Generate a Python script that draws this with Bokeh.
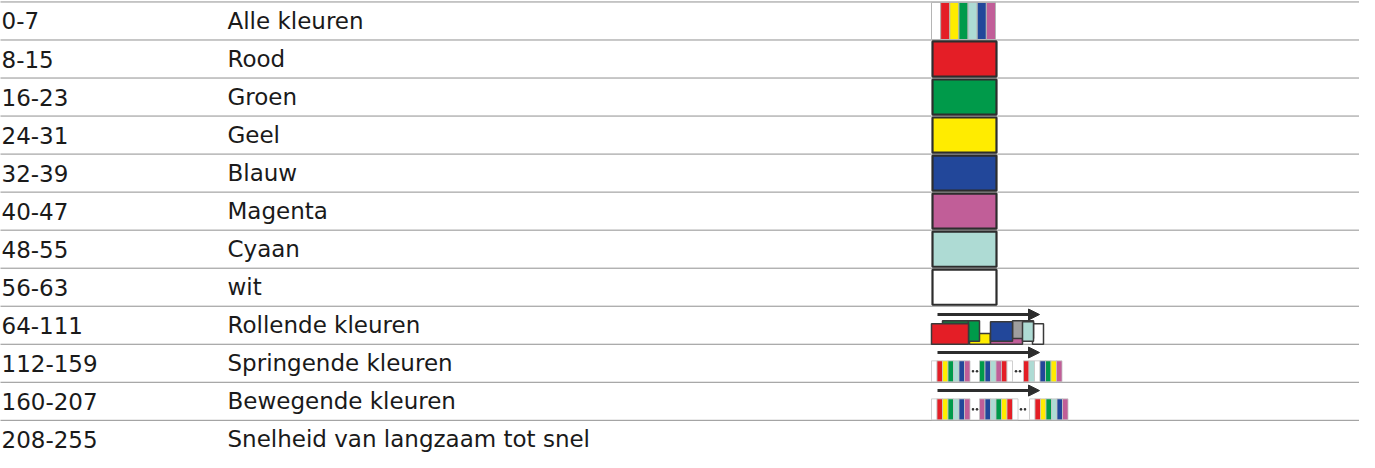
from bokeh.plotting import figure
from bokeh.models import Range1d, Arrow, NormalHead
from bokeh.embed import file_html
from bokeh.resources import INLINE
from bokeh.core.properties import value

# ---------------- data ----------------
ranges = ["0-7", "8-15", "16-23", "24-31", "32-39", "40-47", "48-55", "56-63",
          "64-111", "112-159", "160-207", "208-255"]
names = ["Alle kleuren", "Rood", "Groen", "Geel", "Blauw", "Magenta", "Cyaan", "wit",
         "Rollende kleuren", "Springende kleuren", "Bewegende kleuren",
         "Snelheid van langzaam tot snel"]

R, G, Y, B, M, C, W = "#E41E26", "#009A4A", "#FFEC00", "#22479A", "#C15E98", "#AEDBD4", "#FFFFFF"
solid_colors = [R, G, Y, B, M, C, W]          # rows 8-15 .. 56-63
all_stripes = [W, R, Y, G, C, B, M]            # row 0-7
jump_groups = [[W, R, Y, G, C, B, M], [G, B, C, M, R, W], [R, C, W, B, G, Y, M]]
move_groups = [[W, R, Y, G, C, B, M], [M, B, C, G, Y, R, W], [W, R, Y, G, C, B, M]]
roll_colors = [Y, M, W, "#9e9e9e", C, "#1d6b3e", G, B, R]   # back to front

# ---------------- layout ----------------
ROW0, PITCH = 5.0, 39.0
COL1_X, COL2_X = 1, 227
SW_X0, SW_X1 = 931, 995
LINE_X1 = 1370
STRIPE_W = 5.5
JUMP_STARTS = [931, 979, 1023]
JUMP_DOTS = [972.5, 976.5, 1015.5, 1019.5]
MOVE_STARTS = [931, 979, 1029]
MOVE_DOTS = [972.5, 976.5, 1020.5, 1024.5]
ROLL_X0 = [969, 990, 1032, 1012, 1022, 942, 968, 990, 931]
ROLL_X1 = [990, 1022, 1043, 1033, 1033, 968, 979, 1012, 968]
ROLL_TOP = [345, 345, 335, 332, 333, 332, 332, 333, 335]
ROLL_BOT = [356, 356, 356, 350, 353, 336, 353, 353, 356]

n = len(ranges)
lines_y = [ROW0 + PITCH * k for k in range(n)]
centers = [ROW0 + PITCH * k + PITCH / 2 for k in range(n)]

p = figure(width=1359, height=452, output_backend="svg", toolbar_location=None,
           x_range=Range1d(0, 1359), y_range=Range1d(467, 3.5),
           min_border=0)
p.axis.visible = False
p.grid.visible = False
p.outline_line_color = None
p.background_fill_color = "white"

# dotted separator lines
p.segment(x0=[0] * n, x1=[LINE_X1] * n, y0=lines_y, y1=lines_y,
          line_color="#222222", line_width=1, line_dash="1 1")

# texts
font = value("DejaVu Sans")
p.text(x=[COL1_X] * n, y=centers, text=ranges, text_font=font,
       text_font_size="23px", text_baseline="middle", text_color="#1a1a1a")
p.text(x=[COL2_X] * n, y=centers, text=names, text_font=font,
       text_font_size="23px", text_baseline="middle", text_color="#1a1a1a")

# row 0: all-colour stripes
sw = (SW_X1 - SW_X0) / len(all_stripes)
p.quad(left=[SW_X0 + i * sw for i in range(len(all_stripes))],
       right=[SW_X0 + (i + 1) * sw for i in range(len(all_stripes))],
       top=[lines_y[0] + 0.5] * len(all_stripes),
       bottom=[lines_y[1] - 0.5] * len(all_stripes),
       fill_color=all_stripes, line_color="#b5b5b5", line_width=1)

# rows 1..7: solid swatches
ks = list(range(1, 8))
p.quad(left=[SW_X0 + 1] * 7, right=[SW_X1 + 1] * 7,
       top=[lines_y[k] + 1.5 for k in ks], bottom=[lines_y[k] + PITCH - 1.5 for k in ks],
       fill_color=solid_colors, line_color="#2d2d2d", line_width=2.2)

# arrows rows 8, 9, 10
for k in (8, 9, 10):
    ya = lines_y[k] + 8.5
    p.add_layout(Arrow(x_start=937, y_start=ya, x_end=1039, y_end=ya,
                       line_color="#2d2d2d", line_width=3,
                       end=NormalHead(size=11, fill_color="#2d2d2d", line_color="#2d2d2d")))

# row 8: rolling overlapping blocks
p.quad(left=ROLL_X0, right=ROLL_X1, top=ROLL_TOP, bottom=ROLL_BOT,
       fill_color=roll_colors, line_color="#3a3a3a", line_width=1.5)


def stripes(groups, starts, y0, y1, dots):
    L, Rr, F = [], [], []
    for g, s in zip(groups, starts):
        for i, c in enumerate(g):
            L.append(s + i * STRIPE_W)
            Rr.append(s + (i + 1) * STRIPE_W)
            F.append(c)
    p.quad(left=L, right=Rr, top=[y0] * len(L), bottom=[y1] * len(L),
           fill_color=F, line_color="#c4c4c4", line_width=0.8)
    p.scatter(x=dots, y=[(y0 + y1) / 2] * len(dots), size=2.6,
              fill_color="#333333", line_color=None)


# row 9: jumping
stripes(jump_groups, JUMP_STARTS, lines_y[9] + 17, lines_y[10] - 0.5, JUMP_DOTS)
# row 10: moving
stripes(move_groups, MOVE_STARTS, lines_y[10] + 17, lines_y[11] - 0.5, MOVE_DOTS)

open("out.html", "w").write(file_html(p, INLINE))
